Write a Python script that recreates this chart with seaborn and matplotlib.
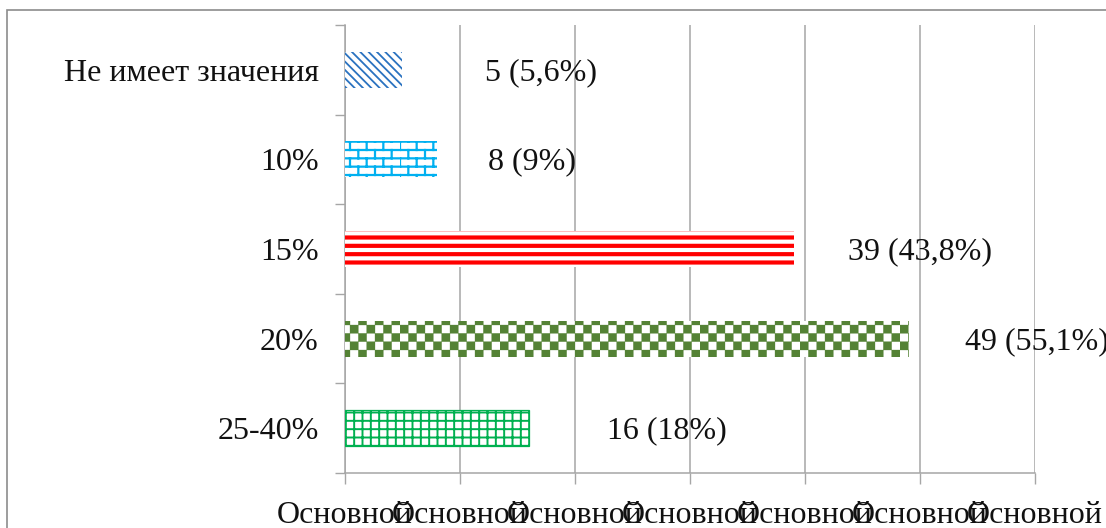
import matplotlib
matplotlib.use("Agg")
import numpy as np
import matplotlib.pyplot as plt
import matplotlib.hatch as mhatch
from matplotlib.path import Path
import seaborn as sns
import pandas as pd
from matplotlib.patches import Rectangle
from matplotlib.ticker import FixedLocator

# ---- data ----
categories = ["Не имеет значения", "10%", "15%", "20%", "25-40%"]
counts = [5, 8, 39, 49, 16]
value_labels = ["5 (5,6%)", "8 (9%)", "39 (43,8%)", "49 (55,1%)", "16 (18%)"]
x_ticks = [0, 10, 20, 30, 40, 50, 60]
x_tick_labels = ["Основной"] * 7

# ---- style ----
colors = ["#2A72C0", "#00B0F0", "#FF0000", "#548235", "#00B050"]
hatches = ["\\\\\\\\", "o", "--", "**", "++"]
hatch_lw = [1.3, 1.6, 3.0, 0.2, 1.4]
edge_lw = [0, 0, 0, 0, 0.9]
label_offsets = [7.2, 4.4, 4.7, 4.9, 6.8]


# custom fill patterns imitating the office-style "checkerboard" and "brick" fills
class CheckerHatch(mhatch.HatchPatternBase):
    def __init__(self, hatch, density):
        self.n = int(hatch.count("*") * density)
        self.num_vertices = (self.n * self.n // 2) * 5 if self.n else 0

    def set_vertices_and_codes(self, vertices, codes):
        s = 1.0 / self.n
        k = 0
        sq = [Path.MOVETO, Path.LINETO, Path.LINETO, Path.LINETO, Path.CLOSEPOLY]
        for r in range(self.n):
            for c in range(self.n):
                if (r + c) % 2 == 0:
                    x0, y0 = c * s, r * s
                    vertices[k:k + 5] = [[x0, y0], [x0 + s, y0], [x0 + s, y0 + s],
                                         [x0, y0 + s], [x0, y0]]
                    codes[k:k + 5] = sq
                    k += 5


class BrickHatch(mhatch.HatchPatternBase):
    def __init__(self, hatch, density):
        cnt = hatch.count("o")
        self.rows = int(cnt * density * 2)
        self.cols = int(cnt * density)
        self.num_vertices = (self.rows * 2 + self.rows * self.cols * 2) if cnt else 0

    def set_vertices_and_codes(self, vertices, codes):
        h = 1.0 / self.rows
        w = 1.0 / self.cols
        k = 0
        for r in range(self.rows):
            y = r * h
            vertices[k:k + 2] = [[0, y], [1, y]]
            codes[k:k + 2] = [Path.MOVETO, Path.LINETO]
            k += 2
            shift = 0.5 * w * (r % 2)
            for c in range(self.cols):
                x = c * w + shift
                vertices[k:k + 2] = [[x, y], [x, y + h]]
                codes[k:k + 2] = [Path.MOVETO, Path.LINETO]
                k += 2


mhatch._hatch_types = [
    CheckerHatch if t is mhatch.Stars else (BrickHatch if t is mhatch.SmallCircles else t)
    for t in mhatch._hatch_types
]

sns.set_theme(style="white")
plt.rcParams["font.family"] = ["Liberation Serif", "DejaVu Serif"]
plt.rcParams["hatch.linewidth"] = 1.5

fig = plt.figure(figsize=(11.06, 5.28), dpi=100)
ax = fig.add_axes([345 / 1106, 1 - 473 / 528, (1035 - 345) / 1106, (473 - 25) / 528])

df = pd.DataFrame({"cat": categories, "n": counts})
sns.barplot(data=df, x="n", y="cat", hue="cat", palette=colors, orient="h",
            width=0.4, legend=False, ax=ax, zorder=3)

for p, c, h, lw, elw in zip(ax.patches, colors, hatches, hatch_lw, edge_lw):
    p.set_facecolor("white")
    p.set_edgecolor(c)
    p.set_hatch(h)
    p.set_linewidth(elw)
    if hasattr(p, "set_hatch_linewidth"):
        p.set_hatch_linewidth(lw)

FS = 23
ax.set_xlim(0, 60)
ax.set_ylim(4.5, -0.5)
ax.set_xticks(x_ticks)
ax.set_xticklabels(x_tick_labels, fontsize=FS)
ax.tick_params(axis="x", length=8, width=1, color="#A6A6A6", pad=12, direction="out", bottom=True)
ax.tick_params(axis="y", which="major", length=0, pad=19, labelsize=FS)
ax.yaxis.set_minor_locator(FixedLocator([-0.5, 0.5, 1.5, 2.5, 3.5, 4.5]))
ax.tick_params(axis="y", which="minor", length=7, width=1, color="#A6A6A6", left=True, direction="out")
ax.set_xlabel("")
ax.set_ylabel("")
ax.grid(axis="x", color="#A6A6A6", linewidth=1.1, zorder=0)
ax.set_axisbelow(True)
for s in ["top", "right"]:
    ax.spines[s].set_visible(False)
for s in ["left", "bottom"]:
    ax.spines[s].set_color("#A6A6A6")
    ax.spines[s].set_linewidth(1.1)

for i, (v, lab, off) in enumerate(zip(counts, value_labels, label_offsets)):
    ax.text(v + off, i + 0.03, lab, ha="left", va="center", fontsize=FS, color="#111111")

for t in ax.get_xticklabels() + ax.get_yticklabels():
    t.set_color("#111111")

# outer chart frame
fig.patches.append(Rectangle((7 / 1106, -0.1), 1.2, 1.1 - 10 / 528,
                             transform=fig.transFigure, fill=False,
                             edgecolor="#8C8C8C", linewidth=1.2))

fig.savefig("out.png", dpi=100)
